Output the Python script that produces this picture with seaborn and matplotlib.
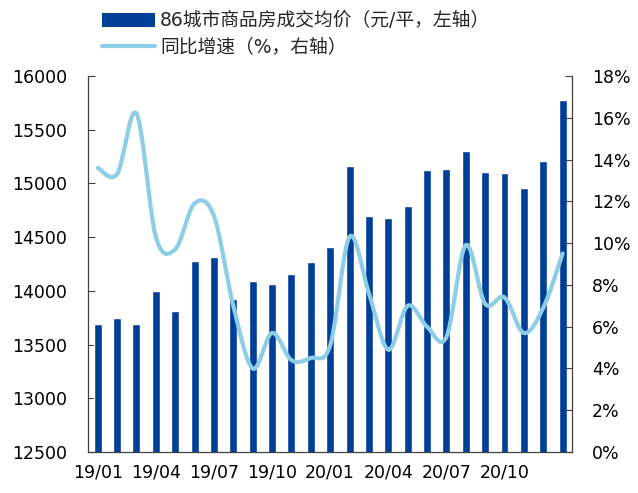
import numpy as np
import pandas as pd
import matplotlib
matplotlib.use("Agg")
import matplotlib.pyplot as plt
import seaborn as sns
from matplotlib.patches import Patch
from matplotlib.lines import Line2D
from matplotlib.ticker import FuncFormatter

months = ["19/01", "19/02", "19/03", "19/04", "19/05", "19/06", "19/07", "19/08",
          "19/09", "19/10", "19/11", "19/12", "20/01", "20/02", "20/03", "20/04",
          "20/05", "20/06", "20/07", "20/08", "20/09", "20/10", "20/11", "20/12", "21/01"]
price = [13690, 13745, 13690, 14000, 13815, 14280, 14317, 13922, 14090, 14060,
         14155, 14267, 14405, 15158, 14693, 14680, 14786, 15124, 15130, 15298,
         15106, 15096, 14960, 15208, 15780]
yoy = [13.6, 13.3, 16.2, 10.3, 9.7, 11.9, 11.3, 7.0, 4.0, 5.7, 4.4, 4.5, 5.1,
       10.3, 7.6, 4.9, 7.0, 6.0, 5.5, 9.9, 7.1, 7.4, 5.7, 6.9, 9.5]
label_months = ["19/01", "19/04", "19/07", "19/10", "20/01", "20/04", "20/07", "20/10"]
legend_labels = ["86城市商品房成交均价（元/平，左轴）", "同比增速（%，右轴）"]

bar_color = "#003F98"
line_color = "#8ECDE6"

sns.set_theme(style="white")
plt.rcParams['font.family'] = ['DejaVu Sans', 'Noto Sans CJK SC']

fig = plt.figure(figsize=(6.38, 4.93), dpi=100)
ax = fig.add_axes([0.138, 0.083, 0.759, 0.763])

df = pd.DataFrame({"month": months, "price": price})
sns.barplot(data=df, x="month", y="price", color=bar_color, width=0.41,
            saturation=1, ax=ax)
ax.set_ylim(12500, 16000)
ax.set_yticks(np.arange(12500, 16001, 500))
ax.set_xlim(-0.5, len(months) - 0.5)
ax.set_xlabel("")
ax.set_ylabel("")

pos = [months.index(m) for m in label_months]
ax.set_xticks(pos)
ax.set_xticklabels(label_months)
ax.set_xticks(np.arange(0.5, len(months) - 0.5, 1), minor=True)
ax.tick_params(axis="x", which="major", length=0, labelsize=12.5, pad=8, colors="black")
ax.tick_params(axis="x", which="minor", length=5, direction="in", width=0.8, color="#404040")
ax.tick_params(axis="y", length=5, direction="in", width=0.8, labelsize=12.5,
               colors="black", color="#404040", pad=15)

# smooth line (Catmull-Rom through the data points)
x = np.arange(len(yoy), dtype=float)
y = np.array(yoy, dtype=float)
xp = np.concatenate([[x[0]], x, [x[-1]]])
yp = np.concatenate([[y[0]], y, [y[-1]]])
xs, ys = [], []
t = np.linspace(0, 1, 20)
for i in range(1, len(xp) - 2):
    p0, p1, p2, p3 = yp[i - 1], yp[i], yp[i + 1], yp[i + 2]
    q0, q1, q2, q3 = xp[i - 1], xp[i], xp[i + 1], xp[i + 2]
    def cr(a0, a1, a2, a3):
        return 0.5 * ((2 * a1) + (-a0 + a2) * t + (2 * a0 - 5 * a1 + 4 * a2 - a3) * t ** 2
                      + (-a0 + 3 * a1 - 3 * a2 + a3) * t ** 3)
    xs.append(cr(q0, q1, q2, q3))
    ys.append(cr(p0, p1, p2, p3))
xs = np.concatenate(xs)
ys = np.concatenate(ys)

ax2 = ax.twinx()
ax2.plot(xs, ys, color=line_color, lw=3)
ax2.set_ylim(0, 18)
ax2.set_yticks(np.arange(0, 18.1, 2))
ax2.yaxis.set_major_formatter(FuncFormatter(lambda v, p: f"{v:.0f}%"))
ax2.tick_params(axis="y", length=5, direction="in", width=0.8, labelsize=12.5,
                colors="black", color="#404040", pad=14)
ax2.set_xlim(-0.5, len(months) - 0.5)

for a in (ax, ax2):
    a.grid(False)
    a.spines["top"].set_visible(False)
    for s in ("left", "right", "bottom"):
        a.spines[s].set_color("#404040")
        a.spines[s].set_linewidth(0.9)
ax.spines["right"].set_visible(False)
ax2.spines["left"].set_visible(False)
ax2.spines["bottom"].set_visible(False)

handles = [Patch(facecolor=bar_color, edgecolor="none"),
           Line2D([0], [0], color=line_color, lw=3)]
fig.legend(handles, legend_labels, loc="upper left", bbox_to_anchor=(0.148, 0.992),
           frameon=False, fontsize=13.5, handlelength=2.85, handleheight=0.75,
           handletextpad=0.25, labelspacing=0.38, borderaxespad=0)

fig.savefig("out.png", dpi=100)
